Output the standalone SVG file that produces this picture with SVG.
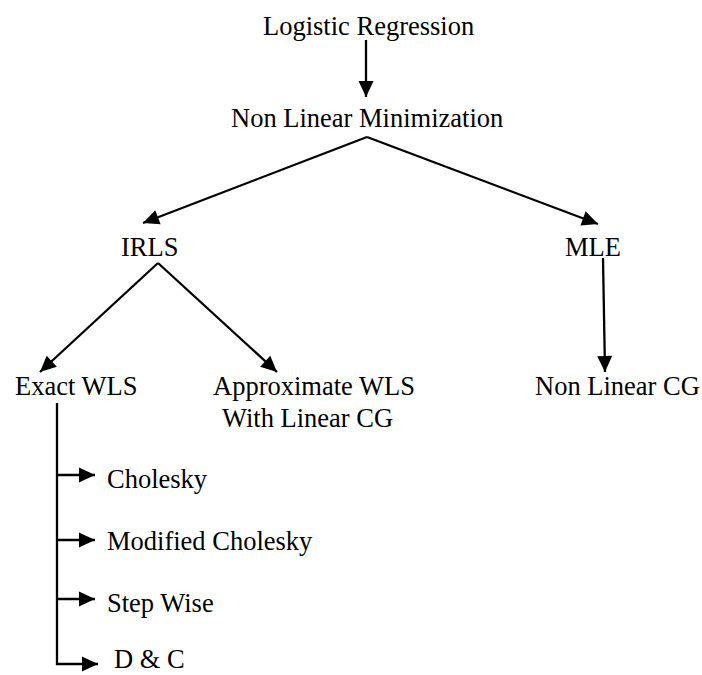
<svg xmlns="http://www.w3.org/2000/svg" width="702" height="675" viewBox="0 0 702 675">
<style>
text{font-family:"Liberation Serif","Times New Roman",serif;font-size:26.5px;fill:#000}
.c line,.c path{stroke:#000;stroke-width:2.3;fill:none}
</style>
<defs>
<marker id="ah" markerUnits="userSpaceOnUse" markerWidth="18" markerHeight="17" refX="16" refY="7.5" orient="auto" overflow="visible">
<path d="M0,0 L16,7.5 L0,15 z" fill="#000"/>
</marker>
</defs>
<rect width="702" height="675" fill="#fff"/>
<g class="c">
<line x1="366" y1="40" x2="366" y2="97" marker-end="url(#ah)"/>
<line x1="367" y1="137" x2="143" y2="223" marker-end="url(#ah)"/>
<line x1="367" y1="137" x2="598" y2="224" marker-end="url(#ah)"/>
<line x1="158" y1="263" x2="40" y2="372" marker-end="url(#ah)"/>
<line x1="158" y1="263" x2="277" y2="372" marker-end="url(#ah)"/>
<line x1="603" y1="258" x2="605" y2="372" marker-end="url(#ah)"/>
<line x1="57" y1="403" x2="57" y2="665"/>
<line x1="56" y1="475" x2="95" y2="475" marker-end="url(#ah)"/>
<line x1="56" y1="540" x2="95" y2="540" marker-end="url(#ah)"/>
<line x1="56" y1="599" x2="95" y2="599" marker-end="url(#ah)"/>
<line x1="56" y1="664" x2="98" y2="664" marker-end="url(#ah)"/>
</g>
<g id="logistic"><text x="263" y="35">Logistic Regression</text></g>
<g id="nonlinmin"><text x="231" y="127">Non Linear Minimization</text></g>
<g id="irls"><text x="121" y="256">IRLS</text></g>
<g id="mle"><text x="565" y="256">MLE</text></g>
<g id="exactwls"><text x="15" y="395">Exact WLS</text></g>
<g id="approxwls"><text x="213" y="395">Approximate WLS</text><text x="222" y="427">With Linear CG</text></g>
<g id="nonlincg"><text x="535" y="395">Non Linear CG</text></g>
<g id="cholesky"><text x="107" y="488">Cholesky</text></g>
<g id="modchol"><text x="107" y="550">Modified Cholesky</text></g>
<g id="stepwise"><text x="107" y="612">Step Wise</text></g>
<g id="dc"><text x="114" y="668">D &amp; C</text></g>
</svg>
